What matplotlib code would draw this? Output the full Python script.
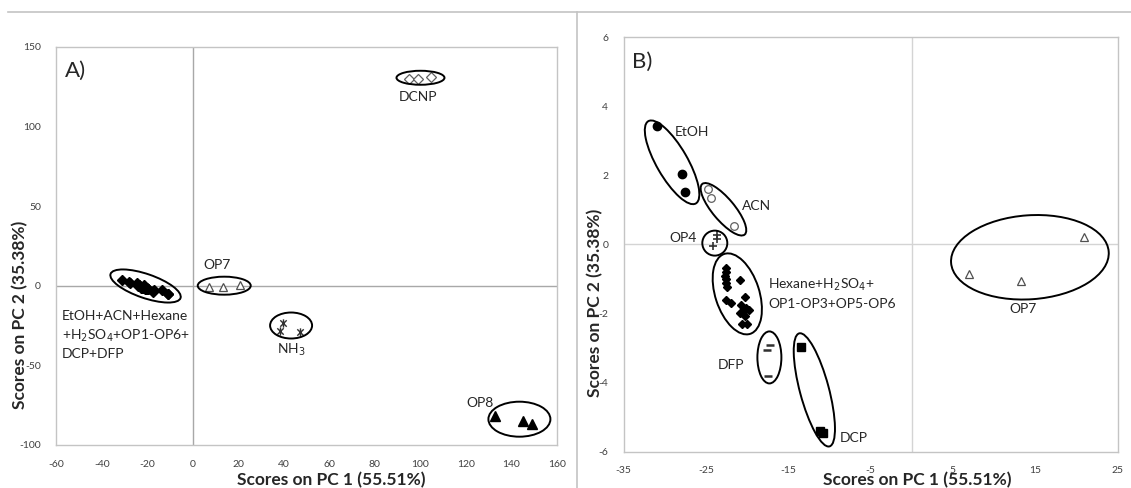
import matplotlib
matplotlib.use("Agg")
import matplotlib.pyplot as plt
from matplotlib.patches import Ellipse
from matplotlib.lines import Line2D
from matplotlib.path import Path
from matplotlib.transforms import ScaledTranslation

plt.rcParams['font.family'] = ['Lato', 'DejaVu Sans']
plt.rcParams['axes.unicode_minus'] = False

# ---------------- data (PCA scores) ----------------
etoh_x = [-30.98, -27.88, -27.55]
etoh_y = [3.43, 2.04, 1.53]
acn_x = [-24.72, -24.40, -21.61]
acn_y = [1.60, 1.34, 0.54]
op4_x = [-23.70, -23.70, -24.19]
op4_y = [0.28, 0.17, -0.04]
hex_x = [-22.49, -22.58, -22.70, -22.49, -22.61, -22.42, -20.88, -20.27, -22.58,
         -21.89, -20.67, -20.07, -20.48, -19.75, -20.88, -20.27, -20.55, -19.94]
hex_y = [-0.67, -0.79, -0.90, -1.00, -1.12, -1.24, -1.03, -1.51, -1.61,
         -1.70, -1.75, -1.85, -1.95, -1.90, -1.99, -2.06, -2.31, -2.31]
dfp_x = [-17.20, -17.55, -17.45]
dfp_y = [-2.92, -3.05, -3.81]
dcp_x = [-13.48, -11.09, -10.77]
dcp_y = [-2.96, -5.40, -5.45]
op7_x = [7.0, 13.3, 20.9]
op7_y = [-0.85, -1.06, 0.21]
nh3_x = [39.8, 38.4, 46.9]
nh3_y = [-23.3, -28.3, -28.9]
dcnp_x = [95.2, 98.9, 104.8]
dcnp_y = [129.5, 129.5, 130.8]
op8_x = [133.0, 145.2, 149.1]
op8_y = [-81.8, -84.8, -86.9]

xticks_a = [-60, -40, -20, 0, 20, 40, 60, 80, 100, 120, 140, 160]
yticks_a = [-100, -50, 0, 50, 100, 150]
xticks_b = [-35, -25, -15, -5, 5, 15, 25]
yticks_b = [-6, -4, -2, 0, 2, 4, 6]

W, H = 1131, 488
fig = plt.figure(figsize=(W / 100, H / 100), dpi=100)

def px_axes(l, t, r, b):
    return [l / W, 1 - b / H, (r - l) / W, (b - t) / H]

axA = fig.add_axes(px_axes(56.4, 46.7, 556.7, 445))
axB = fig.add_axes(px_axes(623.5, 37.3, 1117.5, 451.7))

frame_col = '#c4c4c4'
for ax in (axA, axB):
    for s in ax.spines.values():
        s.set_color(frame_col)
        s.set_linewidth(1.0)
    ax.tick_params(length=0, labelsize=7.5, colors='#404040')

# asterisk-like marker (x with vertical stroke)
ast = Path([(-1, -1), (1, 1), (-1, 1), (1, -1), (0, -1.3), (0, 1.3)],
           [Path.MOVETO, Path.LINETO, Path.MOVETO, Path.LINETO, Path.MOVETO, Path.LINETO])

def ellipse(ax, cx, cy, w, h, ang):
    tr = fig.dpi_scale_trans + ScaledTranslation(cx, cy, ax.transData)
    ax.add_patch(Ellipse((0, 0), w / 100, h / 100, angle=ang, transform=tr,
                         fill=False, ec='black', lw=1.4, zorder=5))

# ---------------- Panel A ----------------
axA.set_xlim(-60, 160)
axA.set_ylim(-100, 150)
axA.set_xticks(xticks_a)
axA.set_yticks(yticks_a)
axA.tick_params(axis='x', pad=11)
axA.tick_params(axis='y', pad=11)
axA.axhline(0, color='#a8a8a8', lw=1.0, zorder=1)
axA.axvline(0, color='#a8a8a8', lw=1.0, zorder=1)

clus_x = etoh_x + acn_x + op4_x + hex_x + dfp_x + dcp_x
clus_y = etoh_y + acn_y + op4_y + hex_y + dfp_y + dcp_y
axA.plot(clus_x, clus_y, ls='none', marker='D', ms=4.8, color='black', zorder=3)
axA.plot(op7_x, op7_y, ls='none', marker='^', ms=5.5, mfc='white', mec='#505050', mew=0.9, zorder=3)
axA.plot(nh3_x, nh3_y, ls='none', marker=ast, ms=6, color='#303030', mew=1.0, zorder=3)
axA.plot(dcnp_x, dcnp_y, ls='none', marker='D', ms=5, mfc='white', mec='#606060', mew=0.9, zorder=3)
axA.plot(op8_x, op8_y, ls='none', marker='^', ms=6.5, color='black', zorder=3)

ellipse(axA, -20.8, -0.2, 74, 24, -19)
ellipse(axA, 13.8, 0.0, 53, 18, 0)
ellipse(axA, 43.2, -25.0, 42, 26, 0)
ellipse(axA, 100.1, 130.5, 48, 14, 0)
ellipse(axA, 143.6, -83.8, 62, 35, 0)

tc = '#262626'
axA.text(-56.4, 134.7, 'A)', fontsize=16, color=tc, ha='left', va='center')
axA.text(98.9, 118.2, 'DCNP', fontsize=10, color=tc, ha='center', va='center')
axA.text(10.5, 13.0, 'OP7', fontsize=10, color=tc, ha='center', va='center')
axA.text(43.5, -40.4, 'NH$_3$', fontsize=10, color=tc, ha='center', va='center')
axA.text(126.4, -73.5, 'OP8', fontsize=10, color=tc, ha='center', va='center')
axA.text(-57.6, -31.0, 'EtOH+ACN+Hexane\n+H$_2$SO$_4$+OP1-OP6+\nDCP+DFP', fontsize=10,
         color=tc, ha='left', va='center', linespacing=1.45)

# ---------------- Panel B ----------------
axB.set_xlim(-35, 25)
axB.set_ylim(-6, 6)
axB.set_xticks(xticks_b)
axB.set_yticks(yticks_b)
axB.tick_params(axis='x', pad=10)
axB.tick_params(axis='y', pad=11)
axB.axhline(0, color='#d4d4d4', lw=1.0, zorder=1)
axB.axvline(0, color='#d4d4d4', lw=1.0, zorder=1)

axB.plot(etoh_x, etoh_y, ls='none', marker='o', ms=6, color='black', zorder=3)
axB.plot(acn_x, acn_y, ls='none', marker='o', ms=5.5, mfc='white', mec='#606060', mew=0.9, zorder=3)
axB.plot(op4_x, op4_y, ls='none', marker='+', ms=6, color='#303030', mew=1.2, zorder=3)
axB.plot(hex_x, hex_y, ls='none', marker='D', ms=4.5, color='black', zorder=3)
axB.plot(dfp_x, dfp_y, ls='none', marker='_', ms=6, color='#303030', mew=1.8, zorder=3)
axB.plot(dcp_x, dcp_y, ls='none', marker='s', ms=5.5, color='black', zorder=3)
axB.plot(op7_x, op7_y, ls='none', marker='^', ms=6, mfc='white', mec='#505050', mew=0.9, zorder=3)

ellipse(axB, -29.1, 2.38, 95, 31, -60)
ellipse(axB, -22.86, 1.02, 66, 22, -50)
ellipse(axB, -23.91, 0.04, 25, 25, 0)
ellipse(axB, -21.18, -1.43, 84, 44, -72)
ellipse(axB, -17.28, -3.27, 24, 52, 0)
ellipse(axB, -11.82, -4.21, 117, 29, -75)
ellipse(axB, 14.36, -0.37, 158, 84, 4)

axB.text(-34.0, 5.29, 'B)', fontsize=16, color=tc, ha='left', va='center')
axB.text(-28.76, 3.27, 'EtOH', fontsize=10, color=tc, ha='left', va='center')
axB.text(-20.67, 1.11, 'ACN', fontsize=10, color=tc, ha='left', va='center')
axB.text(-26.13, 0.18, 'OP4', fontsize=10, color=tc, ha='right', va='center')
axB.text(-17.45, -1.41, 'Hexane+H$_2$SO$_4$+\nOP1-OP3+OP5-OP6', fontsize=10, color=tc,
         ha='left', va='center', linespacing=1.45)
axB.text(-21.89, -3.49, 'DFP', fontsize=10, color=tc, ha='center', va='center')
axB.text(-8.75, -5.61, 'DCP', fontsize=10, color=tc, ha='left', va='center')
axB.text(13.49, -1.88, 'OP7', fontsize=10, color=tc, ha='center', va='center')

# axis titles
lab_kw = dict(fontsize=12.5, fontweight='bold', color=tc, ha='center', va='center')
fig.text(331 / W, 1 - 480 / H, 'Scores on PC 1 (55.51%)', **lab_kw)
fig.text(20.5 / W, 1 - 315 / H, 'Scores on PC 2 (35.38%)', rotation=90, **lab_kw)
fig.text(917 / W, 1 - 480 / H, 'Scores on PC 1 (55.51%)', **lab_kw)
fig.text(595 / W, 1 - 302.5 / H, 'Scores on PC 2 (35.38%)', rotation=90, **lab_kw)

# outer frame lines
fig.add_artist(Line2D([8 / W, 1], [1 - 11.7 / H, 1 - 11.7 / H], color=frame_col, lw=1.2,
                      transform=fig.transFigure))
fig.add_artist(Line2D([577.3 / W, 577.3 / W], [1 - 11.7 / H, 0], color=frame_col, lw=1.2,
                      transform=fig.transFigure))

fig.savefig('out.png', dpi=100, facecolor='white')
